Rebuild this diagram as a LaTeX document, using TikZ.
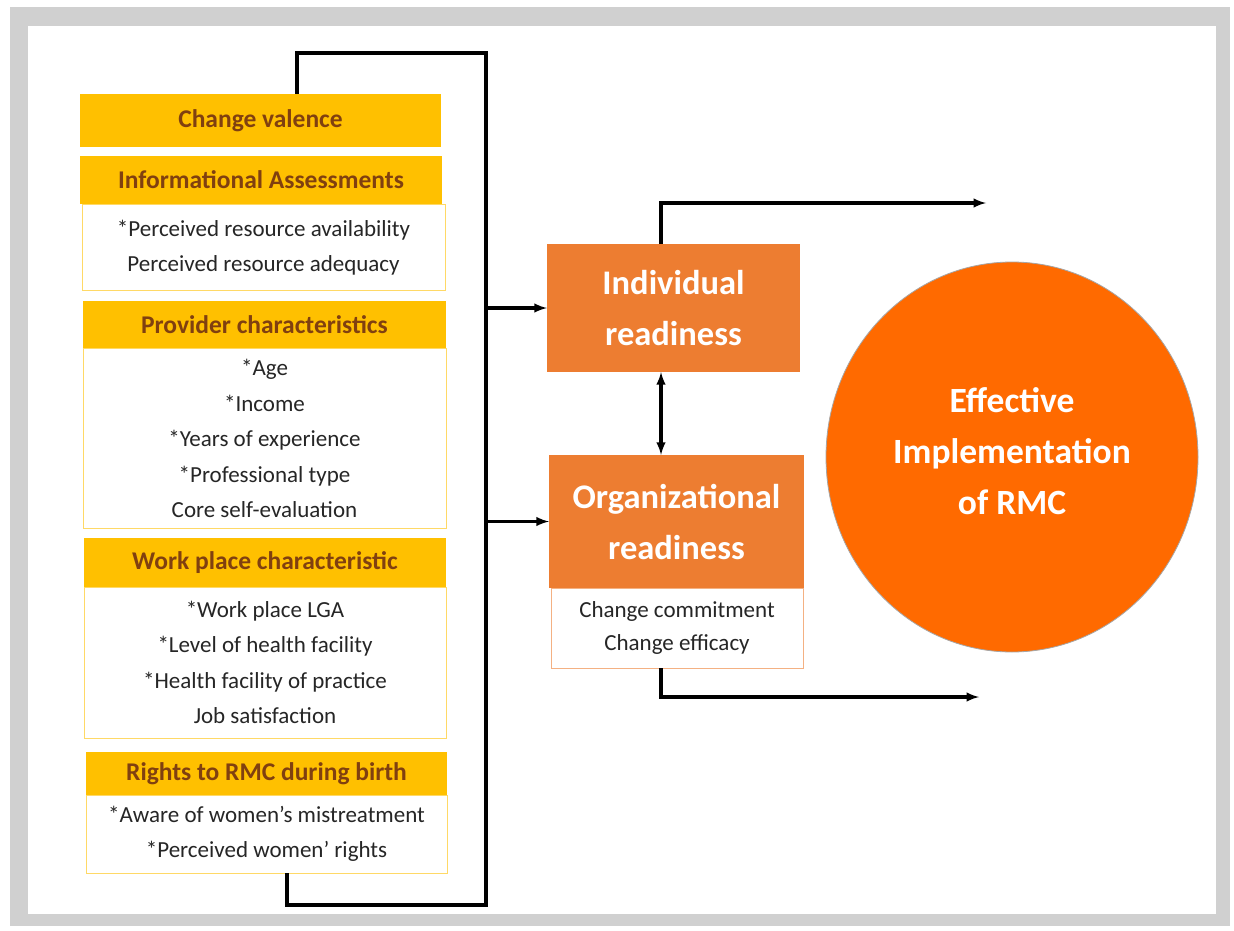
\documentclass[tikz,border=0pt]{standalone}
\usepackage{fontspec}
\setmainfont{Carlito}
\usetikzlibrary{arrows}
\usetikzlibrary{shapes.geometric}

\definecolor{framegray}{RGB}{208,208,208}
\definecolor{gold}{RGB}{255,192,0}
\definecolor{goldline}{RGB}{255,217,102}
\definecolor{headtext}{RGB}{128,64,16}
\definecolor{bodytext}{RGB}{38,38,38}
\definecolor{readyfill}{RGB}{237,125,49}
\definecolor{readyline}{RGB}{244,177,131}
\definecolor{outcome}{RGB}{255,106,0}

\tikzset{
  headbox/.style={fill=gold, inner sep=0pt, text=headtext, font=\bfseries\fontsize{25.5}{30}\selectfont},
  bodybox/.style={fill=white, draw=goldline, line width=0.9pt, inner sep=0pt, align=center, text=bodytext, font=\fontsize{23}{35.5}\selectfont},
  readybox/.style={fill=readyfill, inner sep=0pt, align=center, text=white, font=\bfseries\fontsize{34.5}{51}\selectfont},
  link/.style={line width=3.2pt, black},
  linkarrow/.style={link, -latex}
}

\begin{document}
\begin{tikzpicture}[x=1pt,y=1pt,yscale=-1,xscale=1]
\useasboundingbox (0,0) rectangle (1234,931);

%Shape: Frame
\fill [framegray] (10,7) rectangle (1230,926);
\fill [white] (28,26) rectangle (1216,914);

%Shape: Rectangle (left column)
\node [headbox, minimum width=361, minimum height=53] (valence) at (260.5,120.5) {Change valence};

\node [headbox, minimum width=362, minimum height=48] (infohead) at (261,180) {Informational Assessments};
\node [bodybox, minimum width=363, minimum height=86] (infobody) at (263.5,247.5) {*Perceived resource availability\\Perceived resource adequacy};

\node [headbox, minimum width=363, minimum height=47] (provhead) at (264.5,324.5) {Provider characteristics};
\node [bodybox, minimum width=363, minimum height=180] (provbody) at (264.5,438.5) {*Age\\*Income\\*Years of experience\\*Professional type\\Core self-evaluation};

\node [headbox, minimum width=362, minimum height=49] (workhead) at (265,562.5) {Work place characteristic};
\node [bodybox, minimum width=362, minimum height=151] (workbody) at (265,662.5) {*Work place LGA\\*Level of health facility\\*Health facility of practice\\Job satisfaction};

\node [headbox, minimum width=361, minimum height=43] (rightshead) at (266.5,773.5) {Rights to RMC during birth};
\node [bodybox, minimum width=361, minimum height=78] (rightsbody) at (266.5,834) {*Aware of women’s mistreatment\\*Perceived women’ rights};

%Shape: Rectangle (readiness)
\node [readybox, minimum width=253, minimum height=128] (indiv) at (673.5,308) {Individual\\readiness};
\node [readybox, minimum width=255, minimum height=133] (orghead) at (676.5,521.5) {Organizational\\readiness};
\node [bodybox, draw=readyline, minimum width=252, minimum height=80, font=\fontsize{23}{33}\selectfont] (orgbody) at (677,628) {Change commitment\\Change efficacy};

%Shape: Ellipse
\node [ellipse, fill=outcome, draw=gray!70, line width=0.8pt, minimum width=372, minimum height=390, inner sep=0pt, align=center, text=white, font=\bfseries\fontsize{35.5}{51}\selectfont] (effect) at (1012,457) {Effective\\Implementation\\of RMC\rule[-11pt]{0pt}{11pt}};

%Straight Lines
\coordinate (bustop) at (486,53);
\coordinate (busbot) at (486,905);
\coordinate (spine) at (661,203);
\coordinate (toptip) at (986,203);
\coordinate (bottip) at (979,697);

\draw [link] ([xshift=36.5pt]valence.north) |- (bustop) -- (busbot) -| ([xshift=20.5pt]rightsbody.south);
\draw [linkarrow] (indiv.west -| bustop) -- (indiv.west);
\draw [linkarrow] (orghead.west -| bustop) -- (orghead.west);
\draw [link, latex-latex] (indiv.south -| spine) -- (orghead.north -| spine);
\draw [linkarrow] (indiv.north -| spine) |- (toptip);
\draw [linkarrow] (orgbody.south -| spine) |- (bottip);

\end{tikzpicture}
\end{document}
